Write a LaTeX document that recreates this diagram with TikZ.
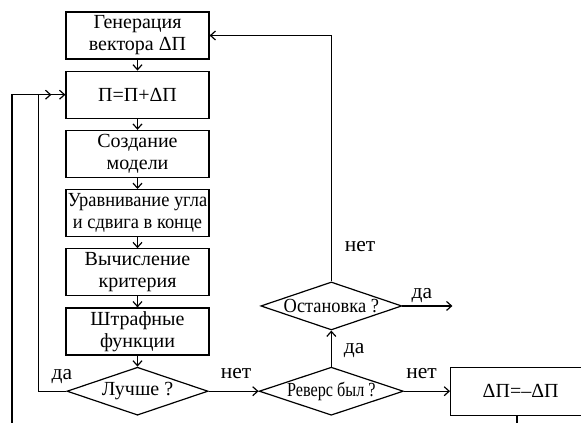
\documentclass[tikz,border=0pt]{standalone}
\usepackage{fontspec}
\setmainfont{Liberation Serif}
\newfontfamily\narrowfont[FakeStretch=0.81]{Liberation Serif}
\newfontfamily\semifont[FakeStretch=0.92]{Liberation Serif}
\usetikzlibrary{shapes.geometric, arrows.meta, positioning, calc}

\begin{document}
\begin{tikzpicture}[
        x=1pt, y=-1pt,
        node distance=11pt,
        >={Straight Barb[length=5pt, width=9pt]},
        block/.style={rectangle, draw, line width=1.2pt, minimum width=143pt, minimum height=47pt, inner xsep=0pt, align=center, font=\fontsize{20}{22}\selectfont},
        decision/.style={diamond, draw, line width=1.2pt, minimum width=141pt, minimum height=48pt, inner sep=0pt, aspect=3, font=\fontsize{20}{22}\selectfont},
        arrow/.style={->, line width=1.2pt},
        line/.style={line width=1.2pt},
        answer/.style={font=\fontsize{21.5}{24}\selectfont, inner sep=0pt, text depth=0pt}
    ]
        \useasboundingbox (0,0) rectangle (581,423);

        % основной столбец
        \node[block] (gen) at (137.5,35.5) {Генерация\\вектора ΔП};
        \node[block, below=of gen] (upd) {П=П+ΔП};
        \node[block, below=of upd] (model) {Создание\\модели};
        \node[block, below=of model, font=\semifont\fontsize{20}{22}\selectfont] (align) {Уравнивание угла\\и сдвига в конце};
        \node[block, below=of align] (crit) {Вычисление\\критерия};
        \node[block, below=of crit] (pen) {Штрафные\\функции};
        \node[decision, below=of pen] (better) {Лучше ?};

        % ветвь "нет"
        \node[decision, right=50pt of better, font=\narrowfont\fontsize{20}{22}\selectfont] (reverse) {Реверс был ?};
        \node[decision, above=36pt of reverse, font=\semifont\fontsize{20}{22}\selectfont] (stop) {Остановка ?};
        \node[block, right=46pt of reverse, minimum width=140pt, minimum height=48pt] (flip) {ΔП=--ΔП};

        \coordinate[right=50pt of stop.east] (exit);
        \coordinate (loopin) at (12,423);
        \coordinate (loopout) at (517,423);

        \draw[arrow] (gen) -- (upd);
        \draw[arrow] (upd) -- (model);
        \draw[arrow] (model) -- (align);
        \draw[arrow] (align) -- (crit);
        \draw[arrow] (crit) -- (pen);
        \draw[arrow] (pen) -- (better);

        \draw[arrow] (better.east) -- node[answer, pos=0.55, above=12pt] {нет} (reverse.west);
        \draw[arrow] (better.west) -| node[answer, pos=0.08, above=11pt] {да} ($(upd.west)+(-27,0)$) -- ($(upd.west)+(-14,0)$);
        \draw[arrow] (reverse.east) -- node[answer, pos=0.38, above=12pt] {нет} (flip.west);
        \draw[arrow] (reverse.north) -- node[answer, pos=0.36, anchor=base west, xshift=12pt] {да} (stop.south);
        \draw[arrow] (stop.east) -- node[answer, pos=0.39, above=7pt] {да} (exit);
        \draw[arrow] (stop.north) |- node[answer, pos=0.06, anchor=base west, xshift=13pt] {нет} (gen.east);

        % возврат снизу
        \draw[line] (flip.south -| loopout) -- (loopout);
        \draw[arrow] (loopin) |- (upd.west);
    \end{tikzpicture}
\end{document}
